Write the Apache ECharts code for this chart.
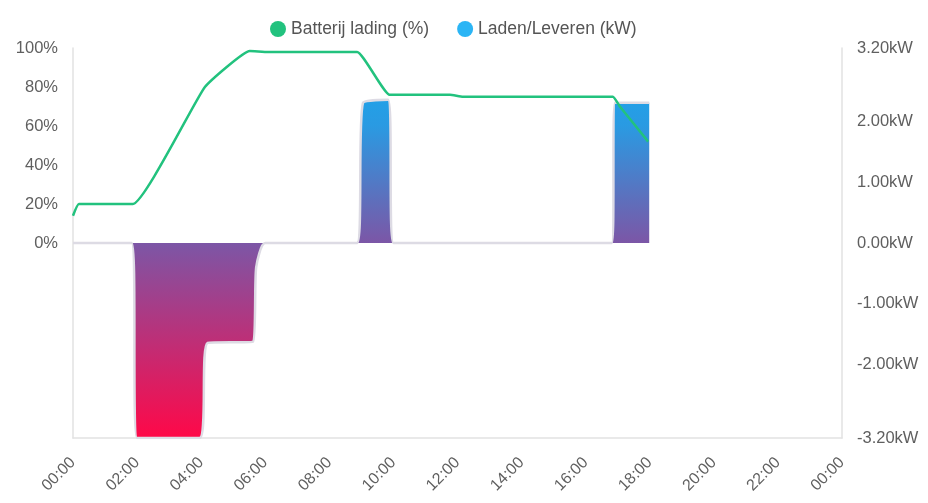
<!DOCTYPE html>
<html>
<head>
<meta charset="utf-8">
<script src="https://cdn.jsdelivr.net/npm/echarts@6/dist/echarts.min.js"></script>
<style>html,body{margin:0;padding:0;background:#fff}#c{width:928px;height:503px}</style>
</head>
<body>
<div id="c"></div>
<script>
// Battery state of charge (%)
const batteryTimes = ["00:00","00:11","01:52","04:07","05:31","06:05","08:52","09:53","11:46","12:10","16:51","17:04","17:57"];
const batteryValues = [14, 20, 20, 80, 98.5, 98, 98, 76, 76, 75, 75, 70, 52];
// Charge / discharge power (kW)
const powerTimes = ["00:00","01:50","02:00","03:57","04:12","05:37","05:43","06:00","08:52","09:03","09:50","10:00","16:49","16:55","17:59"];
const powerValues = [0, 0, -3.2, -3.2, -1.64, -1.62, -0.4, 0, 0, 2.3, 2.35, 0, 0, 2.3, 2.3];
// Axis ticks
const xTickHours = [0,2,4,6,8,10,12,14,16,18,20,22,24];
const kwTicks = [-3.2, -2, -1, 0, 1, 2, 3.2];
const seriesNames = ["Batterij lading (%)", "Laden/Leveren (kW)"];

function toHours(s){const p=s.split(':');return +p[0]+(+p[1])/60;}
const batteryData = batteryTimes.map((t,i)=>[toHours(t),batteryValues[i]]);
const powerData = powerTimes.map((t,i)=>[toHours(t),powerValues[i]]);
function pad(n){return (n<10?'0':'')+n;}

const chart = echarts.init(document.getElementById('c'));
const labelColor = '#5f5f5f';
const font = 'Liberation Sans, Arial, Helvetica, sans-serif';
chart.setOption({
  animation:false,
  textStyle:{fontFamily:font},
  legend:{
    left:265, top:15, itemWidth:16, itemHeight:16, itemGap:28,
    textStyle:{fontSize:17.5,color:'#555',fontFamily:font},
    data:[
      {name:seriesNames[0],icon:'circle',itemStyle:{color:'#22c27e'}},
      {name:seriesNames[1],icon:'circle',itemStyle:{color:'#2bb5f5'}}
    ]
  },
  grid:{left:73,right:86,top:48,bottom:65},
  xAxis:{
    type:'value',min:0,max:24,interval:2,
    axisLine:{show:true,onZero:false,lineStyle:{color:'#e2e2e2',width:1.5}},
    axisTick:{show:false},splitLine:{show:false},
    axisLabel:{rotate:45,fontSize:16,color:labelColor,margin:22,
      customValues:xTickHours,
      formatter:v=>pad(Math.round(v)%24)+':00'}
  },
  yAxis:[
    {type:'value',min:-100,max:100,interval:20,position:'left',
     axisLine:{show:true,lineStyle:{color:'#e2e2e2',width:1.5}},
     axisTick:{show:false},splitLine:{show:false},
     axisLabel:{fontSize:16.5,color:labelColor,margin:15,formatter:v=>v>=0?v+'%':''}},
    {type:'value',min:-3.2,max:3.2,position:'right',
     axisLine:{show:true,lineStyle:{color:'#e2e2e2',width:1.5}},
     axisTick:{show:false},splitLine:{show:false},
     axisLabel:{fontSize:16.5,color:labelColor,margin:15,customValues:kwTicks,
       formatter:v=>v.toFixed(2)+'kW'}}
  ],
  series:[
    {name:seriesNames[1],type:'line',yAxisIndex:1,data:powerData,
     symbol:'none',smooth:0.2,z:2,
     itemStyle:{color:'#2bb5f5'},
     lineStyle:{color:'#dddbe4',width:2.5},
     areaStyle:{opacity:1,origin:0,color:{type:'linear',x:0,y:48,x2:0,y2:438,global:true,
       colorStops:[{offset:0,color:'#14aaf0'},{offset:0.2,color:'#2a9ae2'},{offset:0.5,color:'#7c56a6'},{offset:1,color:'#ff0848'}]}}},
    {name:seriesNames[0],type:'line',yAxisIndex:0,data:batteryData,
     symbol:'none',smooth:0.12,z:3,
     itemStyle:{color:'#22c27e'},
     lineStyle:{color:'#22c27e',width:2.5}}
  ]
});
</script>
</body>
</html>
